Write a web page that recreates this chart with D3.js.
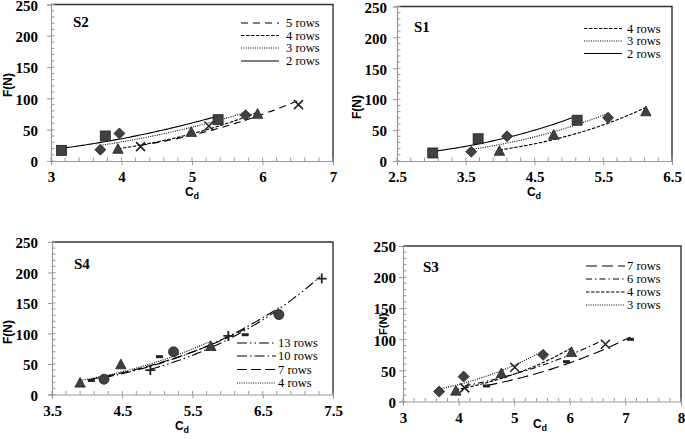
<!DOCTYPE html>
<html><head><meta charset="utf-8">
<script src="https://cdn.jsdelivr.net/npm/d3@7"></script>
<style>body{margin:0;background:#fff} svg{display:block}</style>
</head><body>
<script>
// ---------- data ----------
const yTicks = [0, 50, 100, 150, 200, 250];
const s2XTicks = [3, 4, 5, 6, 7];
const s1XTicks = [2.5, 3.5, 4.5, 5.5, 6.5];
const s4XTicks = [3.5, 4.5, 5.5, 6.5, 7.5];
const s3XTicks = [3, 4, 5, 6, 7, 8];

const s2Rows5 = [[4.27, 23], [5.24, 56], [6.51, 90]];
const s2Rows4 = [[3.95, 19], [4.99, 46], [5.93, 75]];
const s2Rows3 = [[3.70, 18], [3.97, 44], [5.76, 73]];
const s2Rows2 = [[3.15, 17], [3.77, 40], [5.37, 66]];

const s1Rows4 = [[3.99, 16], [4.78, 42], [6.12, 80]];
const s1Rows3 = [[3.58, 15], [4.10, 40], [5.57, 70]];
const s1Rows2 = [[3.02, 13], [3.68, 36], [5.12, 66]];

const s4Rows13 = [[4.90, 40], [6.01, 96], [7.34, 190]];
const s4Rows10 = [[4.24, 25], [5.23, 70], [6.73, 131]];
const s4Rows7 = [[4.06, 23], [5.03, 62], [6.25, 98]];
const s4Rows4 = [[3.90, 19], [4.48, 49], [5.76, 79]];

const s3Rows7 = [[4.50, 25], [5.94, 64], [7.09, 100]];
const s3Rows6 = [[4.11, 22], [5.01, 55], [6.64, 92]];
const s3Rows4 = [[3.95, 17], [4.77, 45], [6.03, 79]];
const s3Rows3 = [[3.65, 16], [4.09, 40], [5.52, 75]];

// ---------- layout / style ----------
const DASH = {solid: null, dot: "1,1.3", med: "3.5,1.5", long: "7,5", longer: "11,5",
  dashdot: "6,3,1.5,3", longdashdot: "10,3,1.5,3", longdashdotdot: "10,3,1.5,3,1.5,3", long7: "10,4"};

const panels = [
  {title: "S2", x0: 51, x1: 333, top: 4.5, bottom: 161, xd: [3, 7], xt: s2XTicks, yOff: -13,
   titlePos: [73, 27], yLab: [12, 85, 12], xLab: [192, 196], leg: [241, 279, 286, [23, 35.5, 48, 61]],
   series: [
     {name: "5 rows", d: s2Rows5, m: "x", dash: DASH.long},
     {name: "4 rows", d: s2Rows4, m: "tri", dash: DASH.med},
     {name: "3 rows", d: s2Rows3, m: "dia", dash: DASH.dot},
     {name: "2 rows", d: s2Rows2, m: "sq", dash: DASH.solid}]},
  {title: "S1", x0: 397, x1: 672, top: 6.5, bottom: 161, xd: [2.5, 6.5], xt: s1XTicks, yOff: -10,
   titlePos: [414, 31.5], yLab: [361, 107, 12], xLab: [534, 196], leg: [584, 622, 627, [28.5, 41, 53.5]],
   series: [
     {name: "4 rows", d: s1Rows4, m: "tri", dash: DASH.med},
     {name: "3 rows", d: s1Rows3, m: "dia", dash: DASH.dot},
     {name: "2 rows", d: s1Rows2, m: "sq", dash: DASH.solid}]},
  {title: "S4", x0: 52, x1: 333, top: 242, bottom: 394.5, xd: [3.5, 7.5], xt: s4XTicks, yOff: -14,
   titlePos: [74, 268.5], yLab: [12, 332, 12], xLab: [182, 430], leg: [237, 276, 278, [343, 356, 369.5, 383]],
   series: [
     {name: "13 rows", d: s4Rows13, m: "plus", dash: DASH.longdashdotdot},
     {name: "10 rows", d: s4Rows10, m: "circ", dash: DASH.longdashdot},
     {name: "7 rows", d: s4Rows7, m: "dash", dash: DASH.long7},
     {name: "4 rows", d: s4Rows4, m: "tri", dash: DASH.dot}]},
  {title: "S3", x0: 403, x1: 681, top: 246, bottom: 401.5, xd: [3, 8], xt: s3XTicks, yOff: -7,
   titlePos: [423, 272], yLab: [387, 324, 11], xLab: [540, 428], leg: [586, 625, 627, [266, 279, 292, 305]],
   series: [
     {name: "7 rows", d: s3Rows7, m: "dash", dash: DASH.longer},
     {name: "6 rows", d: s3Rows6, m: "x", dash: DASH.dashdot},
     {name: "4 rows", d: s3Rows4, m: "tri", dash: DASH.med},
     {name: "3 rows", d: s3Rows3, m: "dia", dash: DASH.dot}]}
];

const W = 685, H = 439;
const svg = d3.select("body").append("svg").attr("width", W).attr("height", H);
const SERIF = "'Liberation Serif', 'Times New Roman', serif";
const SANS = "'Liberation Sans', Arial, sans-serif";
const MFILL = "#414141", MSTROKE = "#222";

function powerFit(pts) {
  const lx = pts.map(p => Math.log(p[0])), ly = pts.map(p => Math.log(p[1]));
  const mx = d3.mean(lx), my = d3.mean(ly);
  let sxy = 0, sxx = 0;
  lx.forEach((v, i) => { sxy += (v - mx) * (ly[i] - my); sxx += (v - mx) * (v - mx); });
  const b = sxy / sxx, a = Math.exp(my - b * mx);
  return x => a * Math.pow(x, b);
}

function drawMarker(g, type, cx, cy) {
  if (type === "sq") {
    g.append("rect").attr("x", cx - 5).attr("y", cy - 5).attr("width", 10).attr("height", 10)
      .attr("fill", MFILL).attr("stroke", MSTROKE).attr("stroke-width", 0.8);
  } else if (type === "dia") {
    g.append("path").attr("d", `M${cx},${cy - 5.5}L${cx + 5.5},${cy}L${cx},${cy + 5.5}L${cx - 5.5},${cy}Z`)
      .attr("fill", MFILL).attr("stroke", MSTROKE).attr("stroke-width", 0.8);
  } else if (type === "tri") {
    g.append("path").attr("d", `M${cx},${cy - 5.5}L${cx + 5.2},${cy + 4.2}L${cx - 5.2},${cy + 4.2}Z`)
      .attr("fill", MFILL).attr("stroke", MSTROKE).attr("stroke-width", 0.8);
  } else if (type === "circ") {
    g.append("circle").attr("cx", cx).attr("cy", cy).attr("r", 5)
      .attr("fill", MFILL).attr("stroke", MSTROKE).attr("stroke-width", 0.8);
  } else if (type === "x") {
    g.append("path").attr("d", `M${cx - 4.5},${cy - 4.5}L${cx + 4.5},${cy + 4.5}M${cx + 4.5},${cy - 4.5}L${cx - 4.5},${cy + 4.5}`)
      .attr("stroke", "#222").attr("stroke-width", 1.6).attr("fill", "none");
  } else if (type === "plus") {
    g.append("path").attr("d", `M${cx - 5},${cy}L${cx + 5},${cy}M${cx},${cy - 5}L${cx},${cy + 5}`)
      .attr("stroke", "#222").attr("stroke-width", 1.8).attr("fill", "none");
  } else if (type === "dash") {
    g.append("rect").attr("x", cx - 3.5).attr("y", cy - 1.5).attr("width", 7).attr("height", 3)
      .attr("fill", "#222");
  }
}

panels.forEach(p => {
  const x = d3.scaleLinear().domain(p.xd).range([p.x0, p.x1]);
  const y = d3.scaleLinear().domain([0, 250]).range([p.bottom, p.top]);
  const g = svg.append("g");

  // frame top/right
  g.append("path").attr("d", `M${p.x0},${p.top}H${p.x1}V${p.bottom}`)
    .attr("fill", "none").attr("stroke", "#333").attr("stroke-width", 1.4);

  // minor ticks
  const xMinor = d3.range(p.xd[0], p.xd[1] + 1e-9, 0.2);
  xMinor.forEach(v => {
    g.append("line").attr("x1", x(v)).attr("x2", x(v)).attr("y1", p.bottom).attr("y2", p.bottom - 3.5)
      .attr("stroke", "#999").attr("stroke-width", 1);
  });
  d3.range(0, 251, 10).forEach(v => {
    g.append("line").attr("x1", p.x0).attr("x2", p.x0 + 3.5).attr("y1", y(v)).attr("y2", y(v))
      .attr("stroke", "#999").attr("stroke-width", 1);
  });
  // axes
  const ya = d3.axisLeft(y).tickValues(yTicks).tickSize(4).tickFormat(d3.format("d"));
  const ga = g.append("g").attr("transform", `translate(${p.x0},0)`).call(ya);
  const xa = d3.axisBottom(x).tickValues(p.xt).tickSize(4).tickFormat(d => String(d));
  const gb = g.append("g").attr("transform", `translate(0,${p.bottom})`).call(xa);
  [ga, gb].forEach(a => {
    a.attr("font-family", null).attr("font-size", null);
    a.select(".domain").attr("stroke", "#999").attr("stroke-width", 1.2);
    a.selectAll(".tick line").attr("stroke", "#999");
    a.selectAll("text").style("font-family", SERIF).style("font-weight", "bold")
      .style("font-size", "15px").attr("fill", "#000");
  });
  ga.selectAll("text").attr("x", p.yOff).attr("dy", "0.38em");
  gb.selectAll("text").attr("y", 9).attr("dy", "0.8em");

  // axis titles
  g.append("text").attr("transform", `translate(${p.yLab[0]},${p.yLab[1]}) rotate(-90)`)
    .attr("text-anchor", "middle").style("font-family", SANS).style("font-weight", "bold")
    .style("font-size", p.yLab[2] + "px").text("F(N)");
  const xt = g.append("text").attr("x", p.xLab[0]).attr("y", p.xLab[1]).attr("text-anchor", "middle")
    .style("font-family", SANS).style("font-weight", "bold").style("font-size", "12px");
  xt.append("tspan").text("C");
  xt.append("tspan").style("font-size", "9px").attr("dy", 3).text("d");

  // panel title
  g.append("text").attr("x", p.titlePos[0]).attr("y", p.titlePos[1]).style("font-family", SERIF)
    .style("font-weight", "bold").style("font-size", "15px").text(p.title);

  // trendlines and markers
  const line = d3.line().x(d => x(d[0])).y(d => y(d[1]));
  p.series.forEach(s => {
    const f = powerFit(s.d);
    const xs = d3.extent(s.d, d => d[0]);
    const pts = d3.range(0, 61).map(i => { const xv = xs[0] + (xs[1] - xs[0]) * i / 60; return [xv, f(xv)]; });
    g.append("path").attr("d", line(pts)).attr("fill", "none").attr("stroke", "#000")
      .attr("stroke-width", 1.1).attr("stroke-dasharray", s.dash);
  });
  p.series.forEach(s => {
    s.d.forEach(d => drawMarker(g, s.m, x(d[0]), y(d[1])));
  });

  // legend
  p.series.forEach((s, i) => {
    const ly = p.leg[3][i];
    g.append("line").attr("x1", p.leg[0]).attr("x2", p.leg[1]).attr("y1", ly).attr("y2", ly)
      .attr("stroke", "#000").attr("stroke-width", 1.1).attr("stroke-dasharray", s.dash);
    g.append("text").attr("x", p.leg[2]).attr("y", ly).attr("dy", "0.35em")
      .style("font-family", SERIF).style("font-size", "12.5px").text(s.name);
  });
});
</script>
</body></html>
